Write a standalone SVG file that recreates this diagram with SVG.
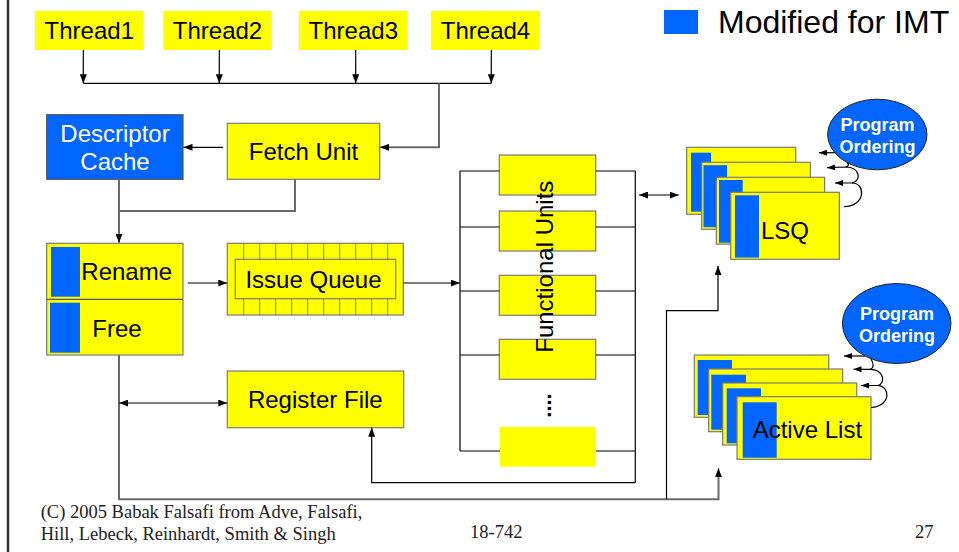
<svg xmlns="http://www.w3.org/2000/svg" width="959" height="552" viewBox="0 0 959 552">
<defs>
<marker id="arr" markerWidth="9" markerHeight="7" refX="9" refY="3.5" orient="auto-start-reverse" markerUnits="userSpaceOnUse">
<path d="M0,0 L9,3.5 L0,7 z" fill="#000"/>
</marker>
<marker id="sm" markerWidth="8" markerHeight="6" refX="8" refY="3" orient="auto" markerUnits="userSpaceOnUse">
<path d="M0,0 L8,3 L0,6 z" fill="#000"/>
</marker>
<style>
.y{fill:#ffff00;stroke:#7a7a7a;stroke-width:1.2}
.yb{fill:#ffff00}
.b{fill:#0066ff}
.t{font-family:"Liberation Sans",Arial,sans-serif;font-size:24px;fill:#000}
.c{text-anchor:middle}
.w{fill:#fff}
.po{font-family:"Liberation Sans",Arial,sans-serif;font-size:18px;font-weight:bold;fill:#fff;text-anchor:middle}
.el{fill:#0066ff;stroke:#222;stroke-width:1}
.ln{fill:none;stroke:#000;stroke-width:1.2}
.gl{fill:none;stroke:#6a6a6a;stroke-width:2}
.tk{stroke:#7a7a7a;stroke-width:1}
.ft{font-family:"Liberation Serif","Times New Roman",serif;font-size:18.5px;fill:#222}
</style>
</defs>

<rect width="959" height="552" fill="#fff"/>
<!-- page edge -->
<line x1="8" y1="0" x2="8" y2="552" stroke="#333" stroke-width="2.5"/>

<!-- legend -->
<g id="legend">
<rect class="b" x="664" y="10" width="34" height="24"/>
<text class="t" x="718" y="32.5" style="font-size:32px">Modified for IMT</text>
</g>

<!-- threads -->
<g id="thread1"><rect class="yb" x="35" y="11" width="108.7" height="39"/><text class="t c" x="89.3" y="39.3">Thread1</text></g>
<g id="thread2"><rect class="yb" x="163.3" y="11" width="108.4" height="39"/><text class="t c" x="217.5" y="39.3">Thread2</text></g>
<g id="thread3"><rect class="yb" x="299" y="11" width="108.7" height="39"/><text class="t c" x="353.3" y="39.3">Thread3</text></g>
<g id="thread4"><rect class="yb" x="431" y="11" width="109" height="39"/><text class="t c" x="485.5" y="39.3">Thread4</text></g>

<!-- front end -->
<g id="descriptor-cache">
<rect class="b" x="46.7" y="114.7" width="136.3" height="64.6" stroke="#555" stroke-width="1.2"/>
<text class="t c w" x="115" y="141.5">Descriptor</text>
<text class="t c w" x="115" y="170">Cache</text>
</g>
<g id="fetch-unit">
<rect class="y" x="227.3" y="123.3" width="152.4" height="56"/>
<text class="t c" x="303.5" y="160">Fetch Unit</text>
</g>
<g id="rename-free">
<rect class="y" x="46.7" y="243.3" width="136.3" height="111.7"/>
<line x1="46.7" y1="299.3" x2="183" y2="299.3" stroke="#555" stroke-width="1.2"/>
<rect class="b" x="51" y="247" width="29" height="49.7"/>
<rect class="b" x="50" y="302.7" width="30" height="50"/>
<text class="t c" x="126.7" y="280">Rename</text>
<text class="t c" x="117" y="336.5">Free</text>
</g>
<g id="issue-queue">
<rect class="y" x="227.3" y="243.3" width="176" height="71.7"/>
<rect class="y" x="235.3" y="259.3" width="160.4" height="39.4"/>
<path class="tk" d="M243.7,243.3V259.3M259.7,243.3V259.3M275.7,243.3V259.3M291.7,243.3V259.3M307.7,243.3V259.3M323.7,243.3V259.3M339.7,243.3V259.3M355.7,243.3V259.3M371.7,243.3V259.3M387.7,243.3V259.3M243.7,298.7V315M259.7,298.7V315M275.7,298.7V315M291.7,298.7V315M307.7,298.7V315M323.7,298.7V315M339.7,298.7V315M355.7,298.7V315M371.7,298.7V315M387.7,298.7V315"/>
<text class="t c" x="313.5" y="288">Issue Queue</text>
</g>
<g id="register-file">
<rect class="y" x="227.3" y="371" width="176.4" height="56.7"/>
<text class="t c" x="315.3" y="408.3">Register File</text>
</g>

<!-- functional units -->
<g id="functional-units">
<rect class="y" x="499.3" y="155" width="96.4" height="40"/>
<rect class="y" x="499.3" y="211" width="96.4" height="40"/>
<rect class="y" x="499.3" y="275.3" width="96.4" height="40"/>
<rect class="y" x="499.3" y="339.3" width="96.4" height="40"/>
<rect class="yb" x="500" y="427" width="96" height="39.7"/>
<text class="t c" transform="translate(552.5,266.7) rotate(-90)">Functional Units</text>
<text class="t c" style="font-size:22px;font-weight:bold" transform="translate(550.5,405.5) rotate(-90)">....</text>
</g>

<!-- load/store queue -->
<g id="lsq">
<rect class="y" x="686.7" y="147.3" width="109" height="67"/><rect class="b" x="691" y="152.7" width="20" height="59"/>
<rect class="y" x="701.7" y="162.3" width="108.6" height="67"/><rect class="b" x="703.5" y="165.2" width="23.5" height="62"/>
<rect class="y" x="716.3" y="177.3" width="108.3" height="66.8"/><rect class="b" x="719" y="180" width="23.7" height="62.7"/>
<rect class="y" x="730.7" y="192.3" width="108.6" height="67"/><rect class="b" x="735" y="195.3" width="24" height="62.3"/>
<text class="t" x="761" y="239">LSQ</text>
</g>
<g id="lsq-ordering">
<ellipse class="el" cx="877.3" cy="134.5" rx="49.7" ry="35.3"/>
<text class="po" x="877.5" y="130.5">Program</text>
<text class="po" x="877.5" y="152.5">Ordering</text>
</g>

<!-- active list -->
<g id="active-list">
<rect class="y" x="694.3" y="355" width="134.4" height="62.3"/><rect class="b" x="697.7" y="360" width="34.3" height="55"/>
<rect class="y" x="708.7" y="369" width="134" height="62.7"/><rect class="b" x="711.3" y="374.7" width="34.7" height="55"/>
<rect class="y" x="722.7" y="383" width="134" height="62"/><rect class="b" x="726.7" y="388.3" width="34.3" height="55"/>
<rect class="y" x="737" y="396.7" width="134" height="62.6"/><rect class="b" x="742.7" y="402.3" width="34" height="55.4"/>
<text class="t" x="752.7" y="438.3">Active List</text>
</g>
<g id="al-ordering">
<ellipse class="el" cx="896.7" cy="323.5" rx="54.3" ry="40"/>
<text class="po" x="897" y="319.5">Program</text>
<text class="po" x="897" y="341.7">Ordering</text>
</g>

<!-- connectors -->
<g id="connectors">
<path class="ln" d="M83.3,50V83.3" marker-end="url(#arr)"/>
<path class="ln" d="M219.3,50V83.3" marker-end="url(#arr)"/>
<path class="ln" d="M355.7,50V83.3" marker-end="url(#arr)"/>
<path class="ln" d="M491.3,50V83.3" marker-end="url(#arr)"/>
<path class="ln" d="M83.3,83.3H491.3"/>
<path class="gl" d="M439,83.3V147.3H382"/>
<path class="ln" d="M382,147.3H380" marker-end="url(#arr)"/>
<path class="ln" d="M223,147.3H183.5" marker-end="url(#arr)"/>
<path class="gl" d="M119,179.3V236"/>
<path class="ln" d="M119,236V242.7" marker-end="url(#arr)"/>
<path class="gl" d="M295,179.3V211H119"/>
<path class="ln" d="M187.7,283H227.3" marker-end="url(#arr)"/>
<path class="ln" d="M403.3,283H459.7" marker-end="url(#arr)"/>
<path class="ln" d="M460,171V451M635.3,171V482.7M460,171H499.3M595.7,171H635.3M460,227H499.3M595.7,227H635.3M460,291H499.3M595.7,291H635.3M460,355H499.3M595.7,355H635.3M460,451H500M596,451H635.3"/>
<path class="ln" d="M635.3,482.7H371.7V427.7" marker-end="url(#arr)"/>
<path class="ln" d="M639,195H678.7" marker-start="url(#arr)" marker-end="url(#arr)"/>
<path class="gl" d="M119,355V499.3H718.5V475"/>
<path class="ln" d="M718.5,476V468.3" marker-end="url(#arr)"/>
<path class="ln" d="M666.5,499.3V310.7H718V266" marker-end="url(#arr)"/>
<path class="ln" d="M119.3,403H227.3" marker-start="url(#arr)" marker-end="url(#arr)"/>
<!-- ordering hand-offs -->
<path class="ln" d="M844,206.7C866,206 866,183 852,183L835,183" marker-end="url(#sm)"/>
<path class="ln" d="M852,183C862,181 860,167 846,167L827,167.7" marker-end="url(#sm)"/>
<path class="ln" d="M846,167C849,166 849,164 847,162.5"/>
<path class="ln" d="M835,152.7H819" marker-end="url(#sm)"/>
<path class="ln" d="M871,407.5C892,406 890,386 878,385.5L861,385.5" marker-end="url(#sm)"/>
<path class="ln" d="M878,385.5C886,383 884,369.5 870,369.3L853.5,369.3" marker-end="url(#sm)"/>
<path class="ln" d="M870,369.3C874,368 874,364 871,359"/>
<path class="ln" d="M865,356H844" marker-end="url(#sm)"/>
</g>

<!-- footer -->
<text class="ft" x="40.7" y="518.3">(C) 2005 Babak Falsafi from Adve, Falsafi,</text>
<text class="ft" x="40.7" y="540">Hill, Lebeck, Reinhardt, Smith &amp; Singh</text>
<text class="ft" x="470" y="537.7">18-742</text>
<text class="ft" x="915" y="537.7">27</text>
</svg>
